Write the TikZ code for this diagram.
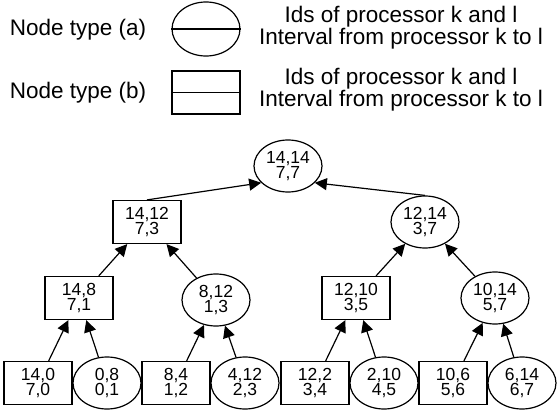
\documentclass[tikz,border=0pt]{standalone}
\usepackage{fontspec}
\setmainfont{Liberation Sans}
\usetikzlibrary{shapes.geometric,arrows.meta}
\begin{document}
\begin{tikzpicture}[x=1pt,y=-1pt,
  lw/.style={line width=1.2pt},
  ell/.style={ellipse, draw, lw, minimum width=68pt, minimum height=52pt, inner sep=0pt, align=center, font=\fontsize{17.5}{15}\selectfont},
  box/.style={rectangle, draw, lw, minimum width=68pt, minimum height=43pt, inner sep=0pt, align=center, font=\fontsize{17.5}{15}\selectfont},
  lgd/.style={font=\fontsize{22.5}{22}\selectfont, align=center, inner sep=0pt},
  arr/.style={lw, -{Triangle[length=12pt,width=12pt]}}]
\useasboundingbox (0,0) rectangle (557,415);
% legend
\node[lgd] (ta) at (78,30) {Node type (a)};
\node[lgd] (tb) at (78,93) {Node type (b)};
\node[ell, minimum height=54pt] (la) at (206,29) {};
\draw[lw] (la.west) -- (la.east);
\node[box] (lb) at (206,92.5) {};
\draw[lw] (lb.west) -- (lb.east);
\node[lgd] (da) at (401,28) {Ids of processor k and l\\Interval from processor k to l};
\node[lgd] (db) at (401,90) {Ids of processor k and l\\Interval from processor k to l};
% tree
\node[ell] (r) at (288,166) {14,14\\7,7};
\node[box] (a1) at (147,222) {14,12\\7,3};
\node[ell] (a2) at (425,222) {12,14\\3,7};
\node[box] (b1) at (79,298) {14,8\\7,1};
\node[ell] (b2) at (216,300) {8,12\\1,3};
\node[box] (b3) at (356,298) {12,10\\3,5};
\node[ell] (b4) at (495,298) {10,14\\5,7};
\node[box] (c1) at (38,383) {14,0\\7,0};
\node[ell] (c2) at (107,383) {0,8\\0,1};
\node[box] (c3) at (176,383) {8,4\\1,2};
\node[ell] (c4) at (245,383) {4,12\\2,3};
\node[box] (c5) at (315,383) {12,2\\3,4};
\node[ell] (c6) at (384,383) {2,10\\4,5};
\node[box] (c7) at (453,383) {10,6\\5,6};
\node[ell] (c8) at (522,383) {6,14\\6,7};
\draw[arr] (a1.north) -- (r.212);
\draw[arr] (a2.north) -- (r.-32);
\draw[arr] (b1) -- (a1);
\draw[arr] (b2) -- (a1);
\draw[arr] (b3) -- (a2);
\draw[arr] (b4) -- (a2);
\draw[arr] (c1) -- (b1);
\draw[arr] (c2) -- (b1);
\draw[arr] (c3) -- (b2);
\draw[arr] (c4) -- (b2);
\draw[arr] (c5) -- (b3);
\draw[arr] (c6) -- (b3);
\draw[arr] (c7) -- (b4);
\draw[arr] (c8) -- (b4);
\end{tikzpicture}
\end{document}
